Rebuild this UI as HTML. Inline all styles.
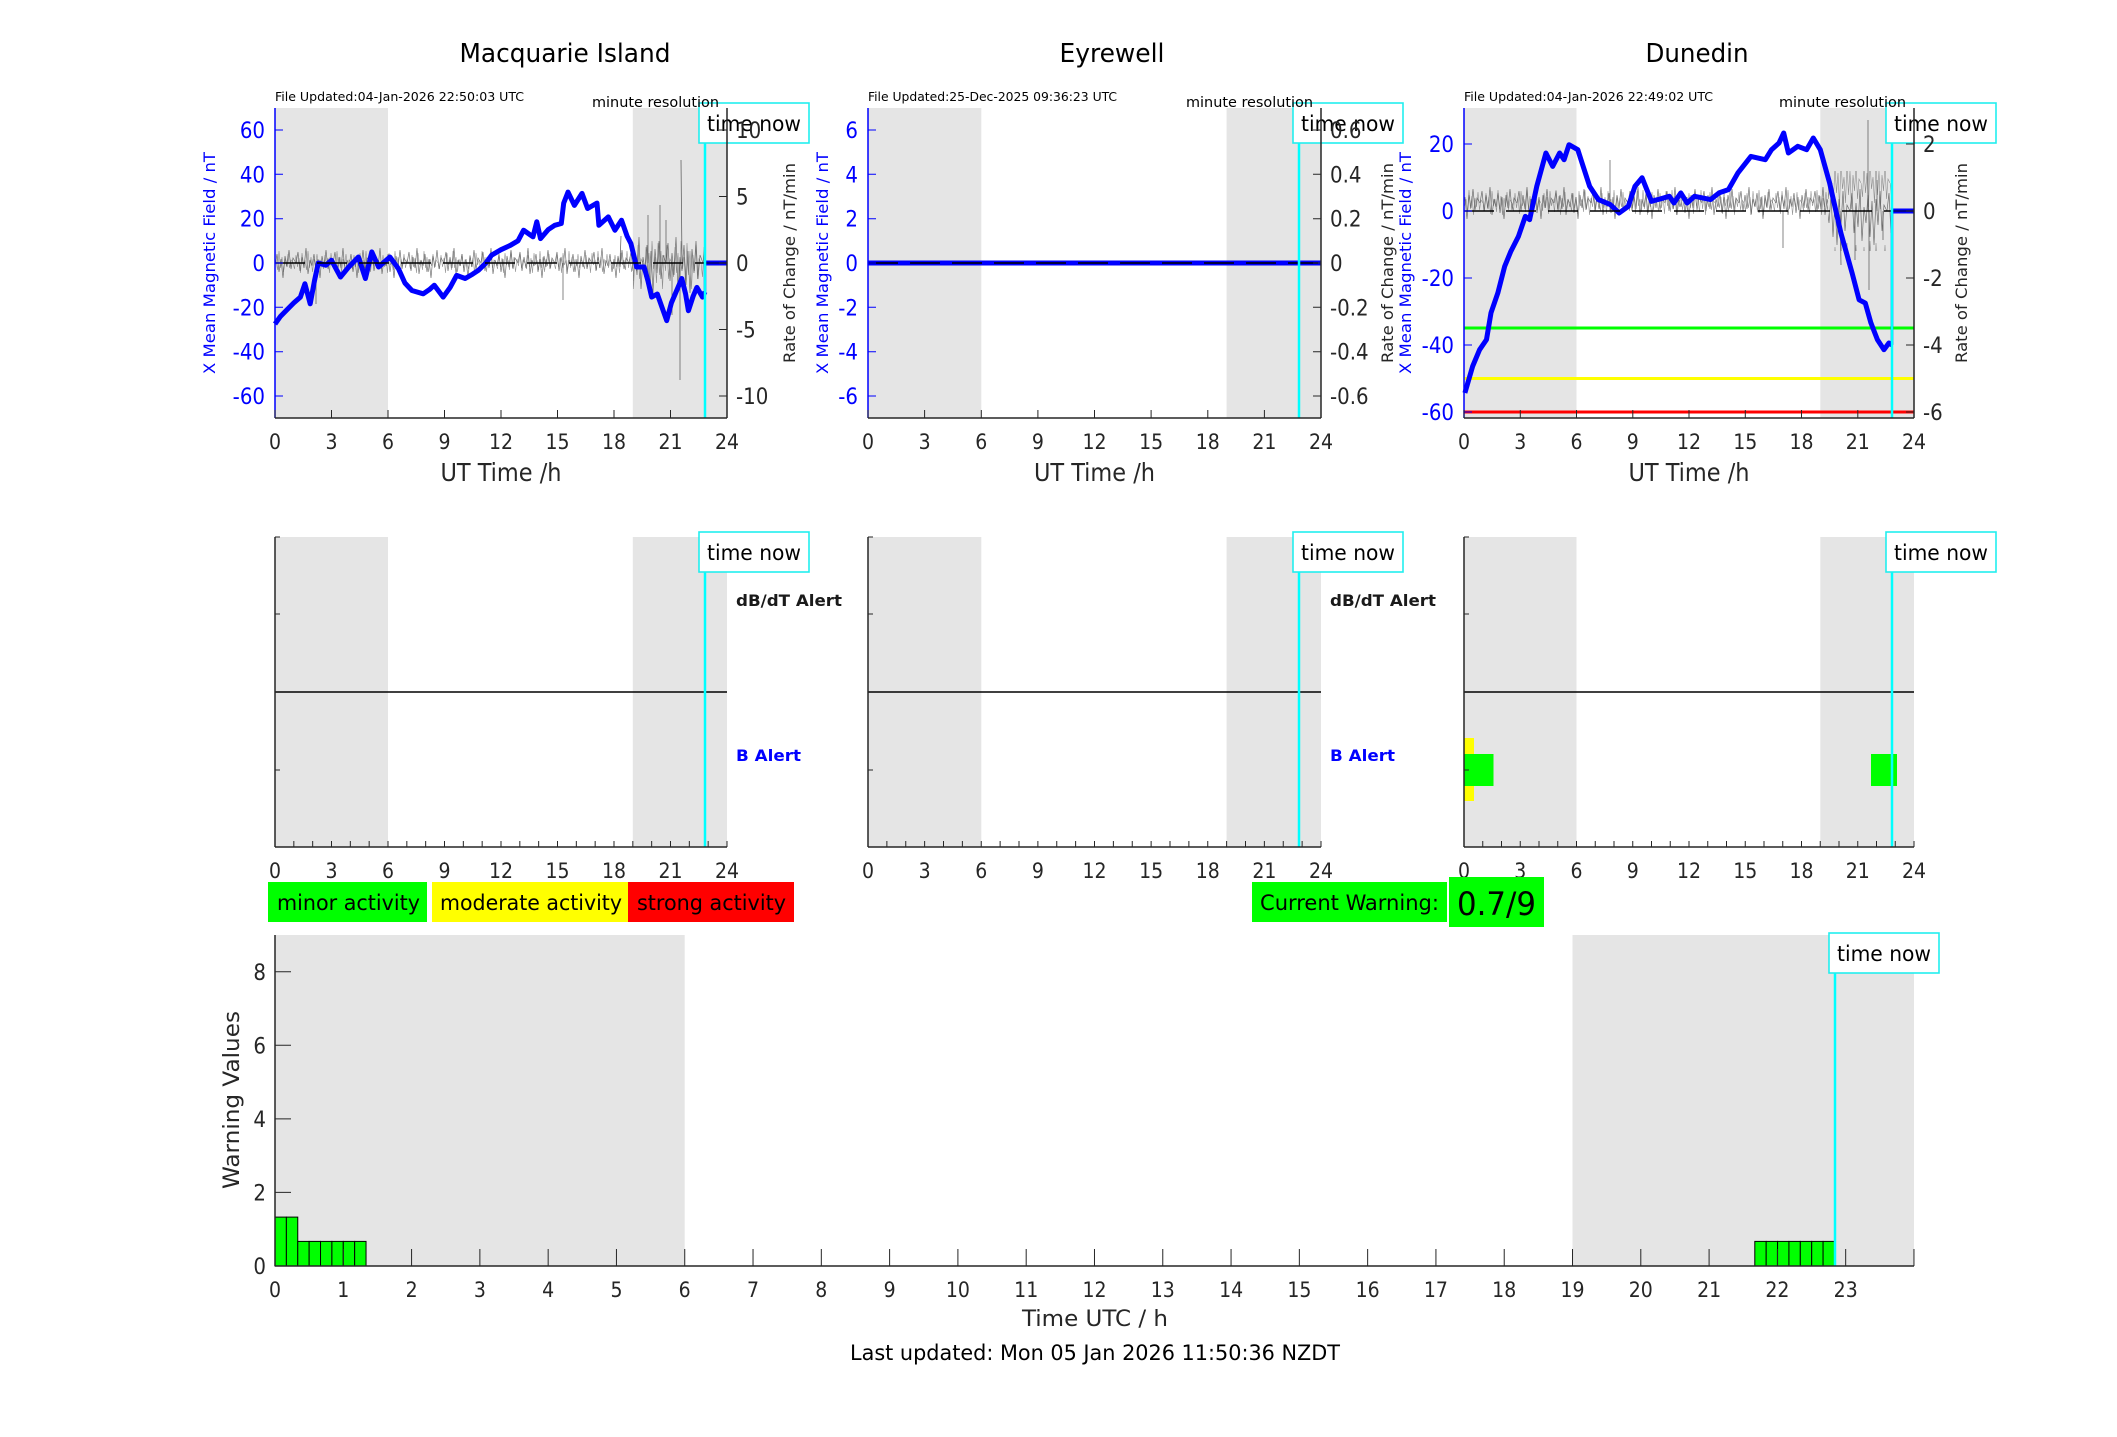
<!DOCTYPE html>
<html><head><meta charset="utf-8">
<style>
html,body{margin:0;padding:0;background:#fff;}
svg{display:block;}
text{font-family:"DejaVu Sans Condensed","DejaVu Sans","Liberation Sans",sans-serif;fill:#262626;}
.w{font-family:"DejaVu Sans","Liberation Sans",sans-serif;}
.b{fill:#0000ff;}
.k{fill:#000;}
</style></head>
<body>
<svg xmlns="http://www.w3.org/2000/svg" width="2117" height="1437" viewBox="0 0 2117 1437">
<defs>
<pattern id="nA" patternUnits="userSpaceOnUse" x="0" y="238" width="37" height="50">
<polyline points="0,25 2,14 4,33 6,19 8,30 10,10 12,36 14,22 16,28 18,16 20,34 22,21 24,40 26,18 28,29 30,12 32,31 34,20 37,25" fill="none" stroke="#444" stroke-width="0.7" stroke-opacity="0.75"/>
</pattern>
<pattern id="nA2" patternUnits="userSpaceOnUse" x="3" y="238" width="29" height="50">
<polyline points="0,25 1.5,31 3,17 4.5,29 6,20 7.5,35 9,15 10.5,27 12,22 13.5,32 15,13 16.5,30 18,19 19.5,34 21,21 22.5,28 24,16 25.5,30 27,22 29,25" fill="none" stroke="#555" stroke-width="0.6" stroke-opacity="0.6"/>
</pattern>
<pattern id="nB" patternUnits="userSpaceOnUse" x="0" y="223" width="37" height="80">
<polyline points="0,40 2,20 4,58 6,30 8,52 10,14 12,66 14,34 16,48 18,22 20,62 22,28 24,70 26,26 28,50 30,18 32,56 34,32 37,40" fill="none" stroke="#444" stroke-width="0.7" stroke-opacity="0.75"/>
</pattern>
<pattern id="nB2" patternUnits="userSpaceOnUse" x="5" y="223" width="29" height="80">
<polyline points="0,40 1.5,54 3,24 4.5,50 6,30 7.5,64 9,18 10.5,46 12,34 13.5,60 15,20 16.5,52 18,28 19.5,66 21,32 22.5,48 24,22 25.5,56 27,36 29,40" fill="none" stroke="#555" stroke-width="0.6" stroke-opacity="0.6"/>
</pattern>
<pattern id="nC" patternUnits="userSpaceOnUse" x="0" y="181" width="37" height="50">
<polyline points="0,22 2,10 4,30 6,14 8,28 10,6 12,34 14,18 16,26 18,12 20,32 22,16 24,38 26,14 28,27 30,8 32,29 34,17 37,22" fill="none" stroke="#444" stroke-width="0.7" stroke-opacity="0.75"/>
</pattern>
<pattern id="nC2" patternUnits="userSpaceOnUse" x="4" y="181" width="29" height="50">
<polyline points="0,22 1.5,30 3,12 4.5,27 6,16 7.5,33 9,10 10.5,25 12,18 13.5,31 15,9 16.5,28 18,15 19.5,34 21,17 22.5,26 24,11 25.5,29 27,19 29,22" fill="none" stroke="#555" stroke-width="0.6" stroke-opacity="0.6"/>
</pattern>
<pattern id="nD" patternUnits="userSpaceOnUse" x="0" y="171" width="37" height="80">
<polyline points="0,40 2,22 4,62 6,32 8,56 10,18 12,70 14,36 16,52 18,24 20,66 22,30 24,74 26,28 28,54 30,20 32,60 34,34 37,40" fill="none" stroke="#444" stroke-width="0.7" stroke-opacity="0.75"/>
</pattern>
</defs>

<!-- ============ PANEL 1 : Macquarie Island ============ -->
<rect x="275" y="108" width="113" height="310" fill="#e5e5e5"/>
<rect x="632.8" y="108" width="94.2" height="310" fill="#e5e5e5"/>
<rect x="275" y="238" width="358" height="50" fill="url(#nA)"/>
<rect x="275" y="238" width="358" height="50" fill="url(#nA2)"/>
<rect x="633" y="223" width="72" height="80" fill="url(#nB)"/>
<rect x="633" y="223" width="72" height="80" fill="url(#nB2)"/>
<path d="M680,263 L680,380 M682,263 L681,160 M563,263 L563,300 M648,263 L648,215 M666,263 L666,220 M620,263 L621,236 M316,263 L316,304 M660,263 L660,205 M672,263 L672,315" stroke="#444" stroke-width="0.8" stroke-opacity="0.8"/>
<polyline fill="none" stroke="#0000ff" stroke-width="5" stroke-linejoin="round" points="275,324 280.6,316.2 287.1,309.6 293.8,302.9 300.4,297.1 304.9,283.8 310.2,303.8 314.5,280.7 318.3,263 325.8,265.2 331.5,260.3 335.3,267.4 340.5,277 348.4,267.4 358.4,257 365.4,278.5 371.8,251.9 378.6,267 389.9,257 398.5,268.8 404.9,283 411.9,290.5 423.2,293.8 429.4,289.6 434.3,285.2 443.2,297.1 450.1,287.4 456.6,275.4 465.2,278.5 472.7,274.1 478.4,270.3 485.9,263 491.6,255.2 501,249.7 510.4,245.3 518,240.8 523.6,230.2 529.2,234.2 533,236.8 536.8,221.8 540.5,238.6 548.1,229.7 554.7,225.3 561.3,223.5 563.7,203.1 568,192.1 574.4,205.4 582,193.4 587.6,208.5 597,203.1 598.9,225.3 608.3,216.9 614.9,230.2 621.5,220.2 627.2,236.4 630.9,243.5 636.6,267 644.1,267 647.9,280.7 651.7,297.1 657.3,294 662,307.3 666.7,320.6 671.4,302.9 675.2,294 681.8,278.5 685.6,294 688.4,310.7 693.1,296.3 696.9,287.4 702.5,297.1 705,291.8"/>
<line x1="275" y1="263" x2="727" y2="263" stroke="#000" stroke-width="1.6" stroke-dasharray="30 12"/>
<line x1="705" y1="291.8" x2="705" y2="263" stroke="#0000ff" stroke-width="2.5"/>
<line x1="705" y1="263" x2="727" y2="263" stroke="#0000ff" stroke-width="5"/>
<line x1="705" y1="263" x2="727" y2="263" stroke="#000066" stroke-width="1.5"/>
<line x1="705" y1="108" x2="705" y2="418" stroke="#00ffff" stroke-width="2.5"/>
<rect x="699" y="103" width="110" height="40" fill="#fff" stroke="#22eeee" stroke-width="1.6"/>
<text x="754" y="131" font-size="21" text-anchor="middle" class="k" textLength="94" lengthAdjust="spacingAndGlyphs">time now</text>
<line x1="275" y1="108" x2="275" y2="418" stroke="#0000ff" stroke-width="1.5"/>
<line x1="727" y1="108" x2="727" y2="418" stroke="#262626" stroke-width="1.5"/>
<line x1="275" y1="418" x2="727" y2="418" stroke="#262626" stroke-width="1.5"/>
<path d="M275,130h8M275,174.3h8M275,218.7h8M275,263h8M275,307.3h8M275,351.7h8M275,396h8" stroke="#0000ff"/>
<path d="M719,130h8M719,196.5h8M719,263h8M719,329.5h8M719,396h8" stroke="#262626"/>
<path d="M275,418v-8M331.5,418v-8M388,418v-8M444.5,418v-8M501,418v-8M557.5,418v-8M614,418v-8M670.5,418v-8M727,418v-8" stroke="#262626"/>
<g font-size="22" text-anchor="end" class="b">
<text x="265" y="138" class="b">60</text><text x="265" y="182.3" class="b">40</text><text x="265" y="226.7" class="b">20</text><text x="265" y="271" class="b">0</text><text x="265" y="315.3" class="b">-20</text><text x="265" y="359.7" class="b">-40</text><text x="265" y="404" class="b">-60</text>
</g>
<g font-size="22">
<text x="736" y="138">10</text><text x="736" y="204.5">5</text><text x="736" y="271">0</text><text x="736" y="337.5">-5</text><text x="736" y="404">-10</text>
</g>
<g font-size="21" text-anchor="middle">
<text x="275" y="449">0</text><text x="331.5" y="449">3</text><text x="388" y="449">6</text><text x="444.5" y="449">9</text><text x="501" y="449">12</text><text x="557.5" y="449">15</text><text x="614" y="449">18</text><text x="670.5" y="449">21</text><text x="727" y="449">24</text>
</g>
<text x="501" y="481" font-size="25" text-anchor="middle" textLength="121" lengthAdjust="spacingAndGlyphs">UT Time /h</text>
<text x="275" y="101" font-size="12" class="k" textLength="249" lengthAdjust="spacingAndGlyphs">File Updated:04-Jan-2026 22:50:03 UTC</text>
<text x="719" y="107" font-size="14" text-anchor="end" class="k" textLength="127" lengthAdjust="spacingAndGlyphs">minute resolution</text>
<text x="565" y="62" font-size="26" text-anchor="middle" class="k" textLength="211" lengthAdjust="spacingAndGlyphs">Macquarie Island</text>
<text x="215" y="263" font-size="16" text-anchor="middle" class="w b" transform="rotate(-90 215 263)" textLength="222" lengthAdjust="spacingAndGlyphs">X Mean Magnetic Field / nT</text>
<text x="795" y="263" font-size="16" text-anchor="middle" class="w" transform="rotate(-90 795 263)" textLength="200" lengthAdjust="spacingAndGlyphs">Rate of Change / nT/min</text>

<!-- ============ PANEL 2 : Eyrewell ============ -->
<rect x="868" y="108" width="113.3" height="310" fill="#e5e5e5"/>
<rect x="1226.6" y="108" width="94.4" height="310" fill="#e5e5e5"/>
<line x1="868" y1="263" x2="1321" y2="263" stroke="#0000ff" stroke-width="5"/>
<line x1="868" y1="263" x2="1321" y2="263" stroke="#000" stroke-width="1.6" stroke-dasharray="30 12"/>
<line x1="1299" y1="108" x2="1299" y2="418" stroke="#00ffff" stroke-width="2.5"/>
<rect x="1293" y="103" width="110" height="40" fill="#fff" stroke="#22eeee" stroke-width="1.6"/>
<text x="1348" y="131" font-size="21" text-anchor="middle" class="k" textLength="94" lengthAdjust="spacingAndGlyphs">time now</text>
<line x1="868" y1="108" x2="868" y2="418" stroke="#0000ff" stroke-width="1.5"/>
<line x1="1321" y1="108" x2="1321" y2="418" stroke="#262626" stroke-width="1.5"/>
<line x1="868" y1="418" x2="1321" y2="418" stroke="#262626" stroke-width="1.5"/>
<path d="M868,130h8M868,174.3h8M868,218.7h8M868,263h8M868,307.3h8M868,351.7h8M868,396h8" stroke="#0000ff"/>
<path d="M1313,130h8M1313,174.3h8M1313,218.7h8M1313,263h8M1313,307.3h8M1313,351.7h8M1313,396h8" stroke="#262626"/>
<path d="M868,418v-8M924.6,418v-8M981.3,418v-8M1037.9,418v-8M1094.5,418v-8M1151.1,418v-8M1207.8,418v-8M1264.4,418v-8M1321,418v-8" stroke="#262626"/>
<g font-size="22" text-anchor="end">
<text x="858" y="138" class="b">6</text><text x="858" y="182.3" class="b">4</text><text x="858" y="226.7" class="b">2</text><text x="858" y="271" class="b">0</text><text x="858" y="315.3" class="b">-2</text><text x="858" y="359.7" class="b">-4</text><text x="858" y="404" class="b">-6</text>
</g>
<g font-size="22">
<text x="1330" y="138">0.6</text><text x="1330" y="182.3">0.4</text><text x="1330" y="226.7">0.2</text><text x="1330" y="271">0</text><text x="1330" y="315.3">-0.2</text><text x="1330" y="359.7">-0.4</text><text x="1330" y="404">-0.6</text>
</g>
<g font-size="21" text-anchor="middle">
<text x="868" y="449">0</text><text x="924.6" y="449">3</text><text x="981.3" y="449">6</text><text x="1037.9" y="449">9</text><text x="1094.5" y="449">12</text><text x="1151.1" y="449">15</text><text x="1207.8" y="449">18</text><text x="1264.4" y="449">21</text><text x="1321" y="449">24</text>
</g>
<text x="1094.5" y="481" font-size="25" text-anchor="middle" textLength="121" lengthAdjust="spacingAndGlyphs">UT Time /h</text>
<text x="868" y="101" font-size="12" class="k" textLength="249" lengthAdjust="spacingAndGlyphs">File Updated:25-Dec-2025 09:36:23 UTC</text>
<text x="1313" y="107" font-size="14" text-anchor="end" class="k" textLength="127" lengthAdjust="spacingAndGlyphs">minute resolution</text>
<text x="1112" y="62" font-size="26" text-anchor="middle" class="k" textLength="105" lengthAdjust="spacingAndGlyphs">Eyrewell</text>
<text x="828" y="263" font-size="16" text-anchor="middle" class="w b" transform="rotate(-90 828 263)" textLength="222" lengthAdjust="spacingAndGlyphs">X Mean Magnetic Field / nT</text>
<text x="1393" y="263" font-size="16" text-anchor="middle" class="w" transform="rotate(-90 1393 263)" textLength="200" lengthAdjust="spacingAndGlyphs">Rate of Change / nT/min</text>

<!-- ============ PANEL 3 : Dunedin ============ -->
<rect x="1464" y="108" width="112.5" height="310" fill="#e5e5e5"/>
<rect x="1820.3" y="108" width="93.7" height="310" fill="#e5e5e5"/>
<line x1="1464" y1="328" x2="1914" y2="328" stroke="#00ff00" stroke-width="3"/>
<line x1="1464" y1="378.5" x2="1914" y2="378.5" stroke="#ffff00" stroke-width="3"/>
<line x1="1464" y1="412" x2="1914" y2="412" stroke="#ff0000" stroke-width="3"/>
<rect x="1464" y="181" width="364" height="50" fill="url(#nC)"/>
<rect x="1464" y="181" width="364" height="50" fill="url(#nC2)"/>
<rect x="1828" y="171" width="64" height="80" fill="url(#nD)"/>
<rect x="1828" y="171" width="64" height="80" fill="url(#nB2)"/>
<path d="M1868,211 L1868,120 M1869,211 L1869,290 M1783,211 L1783,248 M1840,211 L1841,265 M1883,211 L1883,240 M1610,211 L1610,160 M1855,211 L1855,260 M1877,211 L1877,180" stroke="#444" stroke-width="0.8" stroke-opacity="0.8"/>
<polyline fill="none" stroke="#0000ff" stroke-width="5" stroke-linejoin="round" points="1464.9,392.9 1472.6,366.4 1479.6,349.7 1486.5,339.6 1491,312.8 1497.8,293.1 1504.7,266.3 1510.9,251.2 1518.4,236.5 1525.3,216.4 1529.6,219.7 1536.8,186.2 1545.9,153 1552.7,166.4 1559.6,153 1564.1,159.7 1569,144.7 1577.8,149.7 1582.1,163.1 1589.6,186.2 1598.4,199.6 1610.3,204.6 1619.1,213 1628.3,206.3 1635,186.2 1642.1,177.8 1651.5,201.3 1657.9,199.6 1669.3,196.3 1674,203 1680.8,192.9 1687.1,203 1694.6,196.3 1710.6,199.6 1719,192.9 1728.4,189.6 1737.8,173.1 1750.9,156.4 1765.3,159.7 1771.5,149.7 1779,143 1783.7,133 1788.4,153 1797.8,146.3 1806.6,149.7 1813.3,138 1820.3,149.7 1829.6,182.9 1840.9,233.1 1852.1,273 1859.1,299.8 1865.3,303.1 1870.9,322.9 1877.4,339.6 1884,349.7 1888.9,343 1892,345"/>
<line x1="1464" y1="211" x2="1914" y2="211" stroke="#000" stroke-width="1.6" stroke-dasharray="30 12"/>
<line x1="1892" y1="345" x2="1892" y2="211" stroke="#0000ff" stroke-width="2.5"/>
<line x1="1892" y1="211" x2="1914" y2="211" stroke="#0000ff" stroke-width="5"/>
<line x1="1892" y1="211" x2="1914" y2="211" stroke="#000066" stroke-width="1.5"/>
<line x1="1892" y1="108" x2="1892" y2="418" stroke="#00ffff" stroke-width="2.5"/>
<rect x="1886" y="103" width="110" height="40" fill="#fff" stroke="#22eeee" stroke-width="1.6"/>
<text x="1941" y="131" font-size="21" text-anchor="middle" class="k" textLength="94" lengthAdjust="spacingAndGlyphs">time now</text>
<line x1="1464" y1="108" x2="1464" y2="418" stroke="#0000ff" stroke-width="1.5"/>
<line x1="1914" y1="108" x2="1914" y2="418" stroke="#262626" stroke-width="1.5"/>
<line x1="1464" y1="418" x2="1914" y2="418" stroke="#262626" stroke-width="1.5"/>
<path d="M1464,144h8M1464,211h8M1464,278h8M1464,345h8M1464,412h8" stroke="#0000ff"/>
<path d="M1906,144h8M1906,211h8M1906,278h8M1906,345h8M1906,412h8" stroke="#262626"/>
<path d="M1464,418v-8M1520.3,418v-8M1576.5,418v-8M1632.8,418v-8M1689,418v-8M1745.3,418v-8M1801.5,418v-8M1857.8,418v-8M1914,418v-8" stroke="#262626"/>
<g font-size="22" text-anchor="end">
<text x="1454" y="152" class="b">20</text><text x="1454" y="219" class="b">0</text><text x="1454" y="286" class="b">-20</text><text x="1454" y="353" class="b">-40</text><text x="1454" y="420" class="b">-60</text>
</g>
<g font-size="22">
<text x="1923" y="152">2</text><text x="1923" y="219">0</text><text x="1923" y="286">-2</text><text x="1923" y="353">-4</text><text x="1923" y="420">-6</text>
</g>
<g font-size="21" text-anchor="middle">
<text x="1464" y="449">0</text><text x="1520.3" y="449">3</text><text x="1576.5" y="449">6</text><text x="1632.8" y="449">9</text><text x="1689" y="449">12</text><text x="1745.3" y="449">15</text><text x="1801.5" y="449">18</text><text x="1857.8" y="449">21</text><text x="1914" y="449">24</text>
</g>
<text x="1689" y="481" font-size="25" text-anchor="middle" textLength="121" lengthAdjust="spacingAndGlyphs">UT Time /h</text>
<text x="1464" y="101" font-size="12" class="k" textLength="249" lengthAdjust="spacingAndGlyphs">File Updated:04-Jan-2026 22:49:02 UTC</text>
<text x="1906" y="107" font-size="14" text-anchor="end" class="k" textLength="127" lengthAdjust="spacingAndGlyphs">minute resolution</text>
<text x="1697" y="62" font-size="26" text-anchor="middle" class="k" textLength="103" lengthAdjust="spacingAndGlyphs">Dunedin</text>
<text x="1411" y="263" font-size="16" text-anchor="middle" class="w b" transform="rotate(-90 1411 263)" textLength="222" lengthAdjust="spacingAndGlyphs">X Mean Magnetic Field / nT</text>
<text x="1967" y="263" font-size="16" text-anchor="middle" class="w" transform="rotate(-90 1967 263)" textLength="200" lengthAdjust="spacingAndGlyphs">Rate of Change / nT/min</text>

<!-- ============ MIDDLE ROW ============ -->
<rect x="275" y="537" width="113" height="310" fill="#e5e5e5"/>
<rect x="632.8" y="537" width="94.2" height="310" fill="#e5e5e5"/>
<line x1="275" y1="692" x2="727" y2="692" stroke="#000" stroke-width="1.6"/>
<line x1="705" y1="537" x2="705" y2="847" stroke="#00ffff" stroke-width="2.5"/>
<rect x="699" y="532" width="110" height="40" fill="#fff" stroke="#22eeee" stroke-width="1.6"/>
<text x="754" y="560" font-size="21" text-anchor="middle" class="k" textLength="94" lengthAdjust="spacingAndGlyphs">time now</text>
<line x1="275" y1="537" x2="275" y2="847" stroke="#262626" stroke-width="1.5"/>
<line x1="275" y1="847" x2="727" y2="847" stroke="#262626" stroke-width="1.5"/>
<path d="M275,537h5M275,614h5M275,770h5" stroke="#262626"/>
<path d="M275,847v-6m18.833,6v-6m18.833,6v-6m18.833,6v-6m18.833,6v-6m18.833,6v-6m18.833,6v-6m18.833,6v-6m18.833,6v-6m18.833,6v-6m18.833,6v-6m18.833,6v-6m18.833,6v-6m18.833,6v-6m18.833,6v-6m18.833,6v-6m18.833,6v-6m18.833,6v-6m18.833,6v-6m18.833,6v-6m18.833,6v-6m18.833,6v-6m18.833,6v-6m18.833,6v-6m18.833,6v-6" stroke="#262626"/>
<g font-size="21" text-anchor="middle">
<text x="275" y="878">0</text><text x="331.5" y="878">3</text><text x="388" y="878">6</text><text x="444.5" y="878">9</text><text x="501" y="878">12</text><text x="557.5" y="878">15</text><text x="614" y="878">18</text><text x="670.5" y="878">21</text><text x="727" y="878">24</text>
</g>
<text x="736" y="606" font-size="16" font-weight="bold" style="fill:#1a1a1a" textLength="106" lengthAdjust="spacingAndGlyphs">dB/dT Alert</text>
<text x="736" y="761" font-size="16" font-weight="bold" class="b" textLength="65" lengthAdjust="spacingAndGlyphs">B Alert</text>

<rect x="868" y="537" width="113.3" height="310" fill="#e5e5e5"/>
<rect x="1226.6" y="537" width="94.4" height="310" fill="#e5e5e5"/>
<line x1="868" y1="692" x2="1321" y2="692" stroke="#000" stroke-width="1.6"/>
<line x1="1299" y1="537" x2="1299" y2="847" stroke="#00ffff" stroke-width="2.5"/>
<rect x="1293" y="532" width="110" height="40" fill="#fff" stroke="#22eeee" stroke-width="1.6"/>
<text x="1348" y="560" font-size="21" text-anchor="middle" class="k" textLength="94" lengthAdjust="spacingAndGlyphs">time now</text>
<line x1="868" y1="537" x2="868" y2="847" stroke="#262626" stroke-width="1.5"/>
<line x1="868" y1="847" x2="1321" y2="847" stroke="#262626" stroke-width="1.5"/>
<path d="M868,537h5M868,614h5M868,770h5" stroke="#262626"/>
<path d="M868,847v-6m18.875,6v-6m18.875,6v-6m18.875,6v-6m18.875,6v-6m18.875,6v-6m18.875,6v-6m18.875,6v-6m18.875,6v-6m18.875,6v-6m18.875,6v-6m18.875,6v-6m18.875,6v-6m18.875,6v-6m18.875,6v-6m18.875,6v-6m18.875,6v-6m18.875,6v-6m18.875,6v-6m18.875,6v-6m18.875,6v-6m18.875,6v-6m18.875,6v-6m18.875,6v-6m18.875,6v-6" stroke="#262626"/>
<g font-size="21" text-anchor="middle">
<text x="868" y="878">0</text><text x="924.6" y="878">3</text><text x="981.3" y="878">6</text><text x="1037.9" y="878">9</text><text x="1094.5" y="878">12</text><text x="1151.1" y="878">15</text><text x="1207.8" y="878">18</text><text x="1264.4" y="878">21</text><text x="1321" y="878">24</text>
</g>
<text x="1330" y="606" font-size="16" font-weight="bold" style="fill:#1a1a1a" textLength="106" lengthAdjust="spacingAndGlyphs">dB/dT Alert</text>
<text x="1330" y="761" font-size="16" font-weight="bold" class="b" textLength="65" lengthAdjust="spacingAndGlyphs">B Alert</text>

<rect x="1464" y="537" width="112.5" height="310" fill="#e5e5e5"/>
<rect x="1820.3" y="537" width="93.7" height="310" fill="#e5e5e5"/>
<rect x="1464" y="738" width="10" height="63" fill="#ffff00"/>
<rect x="1464" y="754" width="29.5" height="32" fill="#00ff00"/>
<rect x="1871" y="754" width="26" height="32" fill="#00ff00"/>
<line x1="1464" y1="692" x2="1914" y2="692" stroke="#000" stroke-width="1.6"/>
<line x1="1892" y1="537" x2="1892" y2="847" stroke="#00ffff" stroke-width="2.5"/>
<rect x="1886" y="532" width="110" height="40" fill="#fff" stroke="#22eeee" stroke-width="1.6"/>
<text x="1941" y="560" font-size="21" text-anchor="middle" class="k" textLength="94" lengthAdjust="spacingAndGlyphs">time now</text>
<line x1="1464" y1="537" x2="1464" y2="847" stroke="#262626" stroke-width="1.5"/>
<line x1="1464" y1="847" x2="1914" y2="847" stroke="#262626" stroke-width="1.5"/>
<path d="M1464,537h5M1464,614h5M1464,770h5" stroke="#262626"/>
<path d="M1464,847v-6m18.75,6v-6m18.75,6v-6m18.75,6v-6m18.75,6v-6m18.75,6v-6m18.75,6v-6m18.75,6v-6m18.75,6v-6m18.75,6v-6m18.75,6v-6m18.75,6v-6m18.75,6v-6m18.75,6v-6m18.75,6v-6m18.75,6v-6m18.75,6v-6m18.75,6v-6m18.75,6v-6m18.75,6v-6m18.75,6v-6m18.75,6v-6m18.75,6v-6m18.75,6v-6m18.75,6v-6" stroke="#262626"/>
<g font-size="21" text-anchor="middle">
<text x="1464" y="878">0</text><text x="1520.3" y="878">3</text><text x="1576.5" y="878">6</text><text x="1632.8" y="878">9</text><text x="1689" y="878">12</text><text x="1745.3" y="878">15</text><text x="1801.5" y="878">18</text><text x="1857.8" y="878">21</text><text x="1914" y="878">24</text>
</g>

<!-- legend -->
<rect x="268" y="882" width="159" height="40" fill="#00ff00"/>
<text x="277" y="910" font-size="21" class="k" textLength="143" lengthAdjust="spacingAndGlyphs">minor activity</text>
<rect x="432" y="882" width="196" height="40" fill="#ffff00"/>
<text x="440" y="910" font-size="21" class="k" textLength="182" lengthAdjust="spacingAndGlyphs">moderate activity</text>
<rect x="628" y="882" width="166" height="40" fill="#ff0000"/>
<text x="637" y="910" font-size="21" class="k" textLength="149" lengthAdjust="spacingAndGlyphs">strong activity</text>
<rect x="1252" y="882" width="195" height="40" fill="#00ff00"/>
<text x="1260" y="910" font-size="21" class="k" textLength="179" lengthAdjust="spacingAndGlyphs">Current Warning:</text>
<rect x="1449" y="877" width="95" height="50" fill="#00ff00"/>
<text x="1457" y="915" font-size="32" class="k" textLength="79" lengthAdjust="spacingAndGlyphs">0.7/9</text>

<!-- ============ BOTTOM PANEL ============ -->
<rect x="275" y="935" width="409.7" height="331" fill="#e5e5e5"/>
<rect x="1572.5" y="935" width="341.5" height="331" fill="#e5e5e5"/>
<g fill="#00ff00" stroke="#000" stroke-width="1">
<rect x="275" y="1217.1" width="11.38" height="48.9"/><rect x="286.38" y="1217.1" width="11.38" height="48.9"/>
<rect x="297.76" y="1241.4" width="11.38" height="24.6"/><rect x="309.14" y="1241.4" width="11.38" height="24.6"/><rect x="320.52" y="1241.4" width="11.38" height="24.6"/><rect x="331.9" y="1241.4" width="11.38" height="24.6"/><rect x="343.28" y="1241.4" width="11.38" height="24.6"/><rect x="354.66" y="1241.4" width="11.38" height="24.6"/>
<rect x="1754.8" y="1241.4" width="11.38" height="24.6"/><rect x="1766.18" y="1241.4" width="11.38" height="24.6"/><rect x="1777.56" y="1241.4" width="11.38" height="24.6"/><rect x="1788.94" y="1241.4" width="11.38" height="24.6"/><rect x="1800.32" y="1241.4" width="11.38" height="24.6"/><rect x="1811.7" y="1241.4" width="11.38" height="24.6"/><rect x="1823.08" y="1241.4" width="11.38" height="24.6"/>
</g>
<line x1="1835" y1="973" x2="1835" y2="1266" stroke="#00ffff" stroke-width="2.5"/>
<line x1="275" y1="935" x2="275" y2="1266" stroke="#262626" stroke-width="1.5"/>
<line x1="275" y1="1266" x2="1914" y2="1266" stroke="#262626" stroke-width="1.5"/>
<path d="M275,1266v-17m68.29,17v-17m68.29,17v-17m68.29,17v-17m68.29,17v-17m68.29,17v-17m68.29,17v-17m68.29,17v-17m68.29,17v-17m68.29,17v-17m68.29,17v-17m68.29,17v-17m68.29,17v-17m68.29,17v-17m68.29,17v-17m68.29,17v-17m68.29,17v-17m68.29,17v-17m68.29,17v-17m68.29,17v-17m68.29,17v-17m68.29,17v-17m68.29,17v-17m68.29,17v-17m68.29,17v-17" stroke="#262626"/>
<path d="M275,1192.4h16M275,1118.9h16M275,1045.3h16M275,971.8h16" stroke="#262626"/>
<g font-size="22" text-anchor="end">
<text x="266" y="1274">0</text><text x="266" y="1200.4">2</text><text x="266" y="1126.9">4</text><text x="266" y="1053.3">6</text><text x="266" y="979.8">8</text>
</g>
<g font-size="21" text-anchor="middle">
<text x="275" y="1297">0</text><text x="343.3" y="1297">1</text><text x="411.6" y="1297">2</text><text x="479.9" y="1297">3</text><text x="548.2" y="1297">4</text><text x="616.5" y="1297">5</text><text x="684.7" y="1297">6</text><text x="753" y="1297">7</text><text x="821.3" y="1297">8</text><text x="889.6" y="1297">9</text><text x="957.9" y="1297">10</text><text x="1026.2" y="1297">11</text><text x="1094.5" y="1297">12</text><text x="1162.8" y="1297">13</text><text x="1231.1" y="1297">14</text><text x="1299.4" y="1297">15</text><text x="1367.6" y="1297">16</text><text x="1435.9" y="1297">17</text><text x="1504.2" y="1297">18</text><text x="1572.5" y="1297">19</text><text x="1640.8" y="1297">20</text><text x="1709.1" y="1297">21</text><text x="1777.4" y="1297">22</text><text x="1845.7" y="1297">23</text>
</g>
<rect x="1829" y="933" width="110" height="40" fill="#fff" stroke="#22eeee" stroke-width="1.6"/>
<text x="1884" y="961" font-size="21" text-anchor="middle" class="k" textLength="94" lengthAdjust="spacingAndGlyphs">time now</text>
<text x="1095" y="1326" font-size="22" text-anchor="middle" textLength="146" lengthAdjust="spacingAndGlyphs">Time UTC / h</text>
<text x="1095" y="1360" font-size="21" text-anchor="middle" class="k" textLength="490" lengthAdjust="spacingAndGlyphs">Last updated: Mon 05 Jan 2026 11:50:36 NZDT</text>
<text x="239" y="1100" font-size="22" text-anchor="middle" class="w" transform="rotate(-90 239 1100)" textLength="178" lengthAdjust="spacingAndGlyphs">Warning Values</text>
</svg>
</body></html>
